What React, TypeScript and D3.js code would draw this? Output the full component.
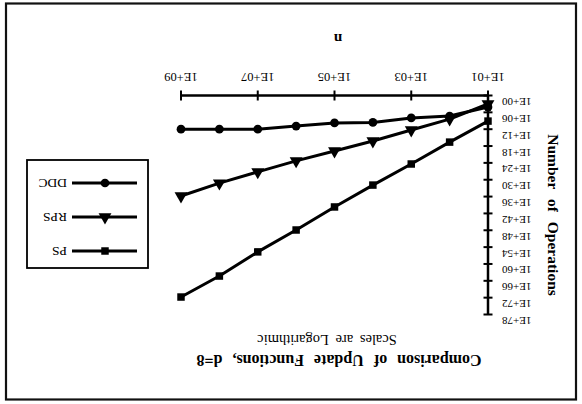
import React from 'react';
import * as d3 from 'd3';

const W = 582;
const H = 404;

// n values (x axis, log)
const nValues = [1e1, 1e2, 1e3, 1e4, 1e5, 1e6, 1e7, 1e8, 1e9];
const xTickValues = [1e1, 1e3, 1e5, 1e7, 1e9];
const xTickLabels = ['1E+01', '1E+03', '1E+05', '1E+07', '1E+09'];
const yTickExps = [0, 6, 12, 18, 24, 30, 36, 42, 48, 54, 60, 66, 72, 78];

// number of operations per series
const ddc = [1.3e4, 2e7, 1e8, 4e9, 6e9, 8e10, 1e12, 1e12, 1e12];
const rps = [1e3, 2.5e8, 2e12, 1.6e16, 6e19, 2e23, 1.6e27, 1.6e31, 6e35];
const ps = [1.3e9, 4e16, 2.5e24, 8e31, 5e39, 8e47, 5e55, 2e64, 6e71];

const seriesNames = ['PS', 'RPS', 'DDC'];

const x = d3.scaleLog().domain([1e1, 1e9]).range([94, 401]);
const y = d3.scaleLog().domain([1, 1e78]).range([308.5, 89.5]);

const line = d3.line<number[]>().x(d => x(d[0])).y(d => y(d[1]));

const symbols: Record<string, string> = {
  DDC: d3.symbol(d3.symbolCircle, 60)() as string,
  RPS: d3.symbol(d3.symbolTriangle, 72)() as string,
  PS: d3.symbol(d3.symbolSquare, 56)() as string,
};

const seriesData: Record<string, number[]> = { DDC: ddc, RPS: rps, PS: ps };

const serif = '"Liberation Serif", "Times New Roman", serif';

export default function App() {
  const legendRows = seriesNames.map((name, i) => ({ name, y: 153 + i * 34 }));
  return (
    <svg width={W} height={H} style={{ position: 'absolute', left: 0, top: 0 }}
      fontFamily={serif}>
      <rect x={0} y={0} width={W} height={H} fill="#fff" />
      <g transform={`rotate(180 ${W / 2} ${H / 2})`}>
        <rect x={6} y={4.5} width={570} height={396} fill="none" stroke="#111" strokeWidth={2.2} />

        <text x={243} y={49} textAnchor="middle" fontWeight="bold" fontSize={16}
          wordSpacing={6}>Comparison of Update Functions, d=8</text>
        <text x={255} y={69} textAnchor="middle" fontSize={14.5} wordSpacing={3}>Scales are Logarithmic</text>

        {/* x axis */}
        <line x1={x(1e1)} x2={x(1e9)} y1={y(1)} y2={y(1)} stroke="#000" strokeWidth={2.5} />
        {xTickValues.map((v, i) => (
          <g key={i}>
            <line x1={x(v)} x2={x(v)} y1={y(1) - 5} y2={y(1) + 5} stroke="#000" strokeWidth={2} />
            <text x={x(v)} y={331} textAnchor="middle" fontSize={12.5}>{xTickLabels[i]}</text>
          </g>
        ))}
        <text x={244} y={370} textAnchor="middle" fontWeight="bold" fontSize={15}>n</text>

        {/* y axis */}
        <line x1={x(1e1)} x2={x(1e1)} y1={y(1)} y2={y(1e78)} stroke="#000" strokeWidth={2.5} />
        {yTickExps.map(e => (
          <g key={e}>
            <line x1={x(1e1) - 4.5} x2={x(1e1) + 4.5} y1={y(Math.pow(10, e))} y2={y(Math.pow(10, e))}
              stroke="#000" strokeWidth={2} />
            <text x={80} y={y(Math.pow(10, e)) - 2.5} textAnchor="end" fontSize={11}>
              {`1E+${e < 10 ? '0' + e : e}`}
            </text>
          </g>
        ))}
        <text transform={`translate(34 189) rotate(-90)`} textAnchor="middle" fontWeight="bold"
          fontSize={15.5} wordSpacing={6}>Number of Operations</text>

        {/* series */}
        {seriesNames.map(name => {
          const pts = nValues.map((n, i) => [n, seriesData[name][i]]);
          return (
            <g key={name}>
              <path d={line(pts) as string} fill="none" stroke="#000" strokeWidth={3} strokeLinejoin="round" />
              {pts.map((p, i) => (
                <path key={i} d={symbols[name]} transform={`translate(${x(p[0])} ${y(p[1])})`} fill="#000" />
              ))}
            </g>
          );
        })}

        {/* legend */}
        <rect x={434} y={136} width={121} height={108} fill="#fff" stroke="#000" strokeWidth={1.8} />
        {legendRows.map(r => (
          <g key={r.name}>
            <line x1={445} x2={510} y1={r.y} y2={r.y} stroke="#000" strokeWidth={3} />
            <path d={symbols[r.name]} transform={`translate(477 ${r.y})`} fill="#000" />
            <text x={515} y={r.y + 4.5} fontSize={13.5}>{r.name}</text>
          </g>
        ))}
      </g>
    </svg>
  );
}
